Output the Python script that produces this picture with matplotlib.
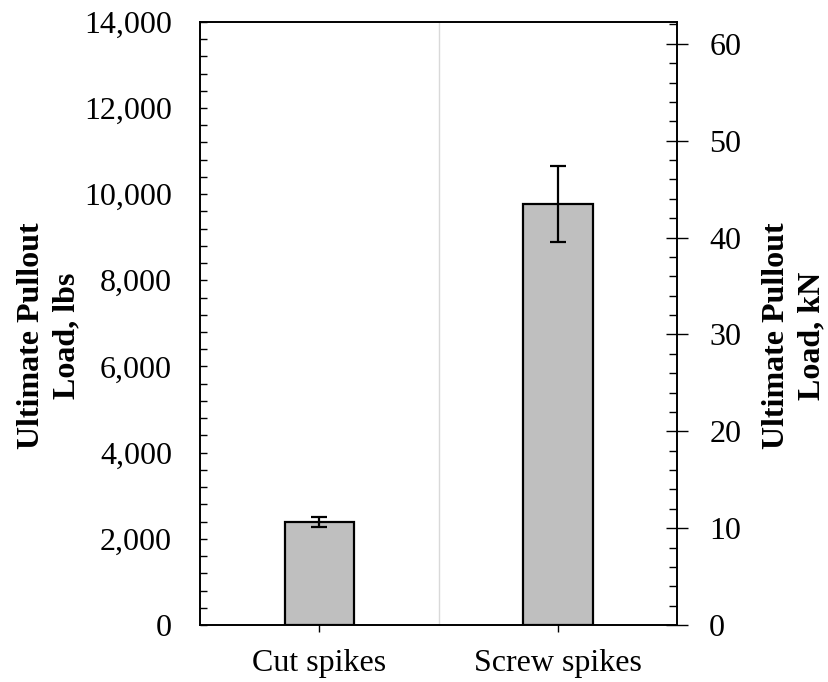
import matplotlib.pyplot as plt
from matplotlib.ticker import MultipleLocator, FuncFormatter

# pullout test results (mean and spread, lbs)
spikes = ["Cut spikes", "Screw spikes"]
load_lbs = [2390, 9780]
err_lbs = [105, 880]

LBS_TO_KN = 0.0044482

plt.rcParams['font.family'] = ['Liberation Serif', 'DejaVu Serif']

fig = plt.figure(figsize=(8.29, 6.82), dpi=100)
ax = fig.add_axes([0.241, 0.0836, 0.576, 0.8844])

xs = range(len(spikes))
ax.bar(xs, load_lbs, width=0.29, color='#BFBFBF', edgecolor='black', linewidth=1.6, zorder=3)
ax.errorbar(xs, load_lbs, yerr=err_lbs, fmt='none', ecolor='black',
            elinewidth=1.6, capsize=5.5, capthick=1.6, zorder=4)

# light separator between the two categories
ax.axvline(0.5, color='#d9d9d9', lw=1, zorder=1)

ax.set_xlim(-0.5, 1.5)
ax.set_ylim(0, 14000)
ax.set_xticks(list(xs))
ax.set_xticklabels(spikes, fontsize=23)
ax.tick_params(axis='x', direction='inout', length=10, width=1, pad=12)

ax.yaxis.set_major_locator(MultipleLocator(2000))
ax.yaxis.set_minor_locator(MultipleLocator(400))
ax.yaxis.set_major_formatter(FuncFormatter(lambda v, p: f"{int(v):,}"))
ax.tick_params(axis='y', which='both', direction='in', length=5, width=1,
               labelsize=23, pad=20)
ax.set_ylabel("Ultimate Pullout\nLoad, lbs", fontsize=23, fontweight='bold',
              labelpad=2, linespacing=1.3)
ax.yaxis.label.set_y(0.48)

for s in ax.spines.values():
    s.set_linewidth(1.2)

# same load in kN on the right
ax2 = ax.twinx()
ax2.set_ylim(0, 14000 * LBS_TO_KN)
ax2.yaxis.set_major_locator(MultipleLocator(10))
ax2.yaxis.set_minor_locator(MultipleLocator(2))
ax2.tick_params(axis='y', which='major', direction='inout', length=16, width=1,
                labelsize=23, pad=15)
ax2.tick_params(axis='y', which='minor', direction='in', length=6, width=1)
ax2.set_ylabel("Ultimate Pullout\nLoad, kN", fontsize=23, fontweight='bold',
               labelpad=15, linespacing=1.3)
ax2.yaxis.label.set_y(0.48)
for s in ax2.spines.values():
    s.set_linewidth(1.2)

fig.savefig('out.png', dpi=100)
